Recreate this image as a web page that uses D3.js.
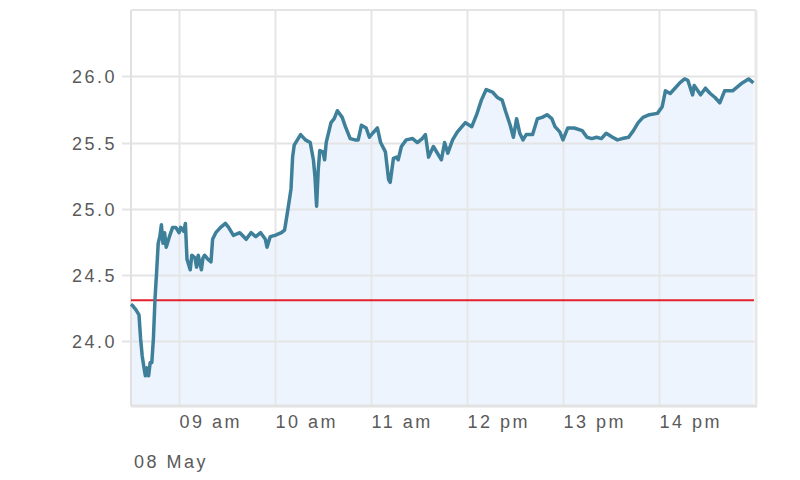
<!DOCTYPE html>
<html>
<head>
<meta charset="utf-8">
<script src="https://cdn.jsdelivr.net/npm/d3@7"></script>
<style>
  html, body { margin: 0; padding: 0; background: #fff; }
  svg text { font-family: "Liberation Sans", Arial, sans-serif; fill: #5a5a5a; }
</style>
</head>
<body>
<svg id="chart" width="800" height="480"></svg>
<script>
// ---- data ----
const times = [
  "08:30","08:31","08:33","08:35","08:36","08:37","08:38","08:39","08:40","08:41","08:42","08:43",
  "08:44","08:45","08:46","08:47","08:48","08:49","08:50","08:51","08:52","08:54","08:56","08:58",
  "09:00","09:01","09:03","09:04","09:05","09:07","09:08","09:10","09:11","09:12","09:14","09:15",
  "09:16","09:18","09:20","09:21","09:23","09:26","09:29","09:31","09:34","09:38","09:42","09:45",
  "09:48","09:51","09:54","09:55","09:57","10:00","10:04","10:06","10:08","10:10","10:11","10:12",
  "10:16","10:19","10:22","10:24","10:25","10:26","10:27","10:28","10:30","10:31","10:32","10:35",
  "10:37","10:39","10:42","10:44","10:47","10:50","10:52","10:54","10:57","10:59","11:01","11:04",
  "11:06","11:09","11:11","11:12","11:14","11:16","11:17","11:19","11:22","11:26","11:29","11:32",
  "11:34","11:36","11:39","11:42","11:44","11:46","11:48","11:51","11:54","11:59","12:03","12:06",
  "12:09","12:12","12:16","12:19","12:22","12:24","12:27","12:29","12:31","12:33","12:35","12:37",
  "12:41","12:44","12:47","12:50","12:53","12:55","12:58","13:00","13:03","13:07","13:12","13:15",
  "13:18","13:21","13:24","13:27","13:31","13:34","13:37","13:41","13:44","13:47","13:50","13:54",
  "13:59","14:02","14:04","14:07","14:10","14:13","14:16","14:18","14:21","14:22","14:26","14:29",
  "14:32","14:35","14:38","14:41","14:46","14:49","14:52","14:56","14:59"
];
const prices = [
  24.28,24.27,24.24,24.20,24.02,23.89,23.81,23.74,23.80,23.74,23.84,23.84,
  24.02,24.32,24.52,24.74,24.79,24.88,24.74,24.82,24.71,24.79,24.86,24.86,
  24.82,24.86,24.83,24.89,24.62,24.54,24.65,24.63,24.56,24.65,24.54,24.63,
  24.65,24.62,24.60,24.77,24.82,24.86,24.89,24.86,24.80,24.82,24.77,24.82,
  24.79,24.82,24.77,24.71,24.79,24.80,24.82,24.84,24.99,25.15,25.39,25.48,
  25.56,25.52,25.50,25.37,25.24,25.02,25.29,25.44,25.43,25.37,25.50,25.65,
  25.68,25.74,25.69,25.62,25.53,25.52,25.52,25.63,25.61,25.54,25.57,25.61,
  25.50,25.43,25.22,25.20,25.38,25.39,25.37,25.47,25.52,25.53,25.50,25.53,
  25.56,25.39,25.47,25.41,25.37,25.50,25.42,25.52,25.58,25.65,25.62,25.71,
  25.82,25.90,25.88,25.84,25.82,25.74,25.63,25.54,25.68,25.57,25.52,25.56,
  25.56,25.68,25.69,25.71,25.68,25.62,25.58,25.52,25.61,25.61,25.59,25.54,
  25.53,25.54,25.53,25.57,25.54,25.52,25.53,25.54,25.59,25.65,25.69,25.71,
  25.72,25.77,25.89,25.87,25.91,25.95,25.98,25.97,25.86,25.93,25.86,25.91,
  25.87,25.84,25.80,25.89,25.89,25.92,25.95,25.98,25.95
];
const previousClose = 24.31;
const yTicks = [24.0, 24.5, 25.0, 25.5, 26.0];
const xTickTimes = ["09:00","10:00","11:00","12:00","13:00","14:00"];
const xTickLabels = ["09 am","10 am","11 am","12 pm","13 pm","14 pm"];
const dateLabel = "08 May";
const domainStart = "08:30", domainEnd = "15:00";
const yMin = 23.52, yMax = 26.5;

// ---- chart ----
const parse = d3.timeParse("%Y-%m-%d %H:%M");
const toDate = t => parse("2014-05-08 " + t);
const data = times.map((t, i) => ({ t: toDate(t), v: prices[i] }));

const svg = d3.select("#chart");
const m = { left: 131, right: 755, top: 10, bottom: 405 };

const x = d3.scaleTime().domain([toDate(domainStart), toDate(domainEnd)]).range([m.left, m.right]);
const y = d3.scaleLinear().domain([yMin, yMax]).range([m.bottom, m.top]);

// area fill
svg.append("path")
  .datum(data)
  .attr("fill", "#eef4fd")
  .attr("d", d3.area().x(d => x(d.t)).y0(m.bottom).y1(d => y(d.v)));

// grid: horizontal
const gy = svg.append("g");
gy.selectAll("line").data(yTicks).join("line")
  .attr("x1", m.left - 9).attr("x2", m.right)
  .attr("y1", d => Math.round(y(d)) + 0.5).attr("y2", d => Math.round(y(d)) + 0.5)
  .attr("stroke", "#e4e4e4").attr("stroke-width", 2);
// grid: vertical
const gx = svg.append("g");
gx.selectAll("line").data(xTickTimes).join("line")
  .attr("x1", d => Math.round(x(toDate(d))) + 0.5).attr("x2", d => Math.round(x(toDate(d))) + 0.5)
  .attr("y1", m.top).attr("y2", m.bottom)
  .attr("stroke", "#e6e6e6").attr("stroke-width", 2);

// frame
svg.append("line").attr("x1", m.left).attr("x2", m.right + 1).attr("y1", m.top).attr("y2", m.top)
  .attr("stroke", "#e4e4e4").attr("stroke-width", 2);
svg.append("line").attr("x1", m.left).attr("x2", m.left).attr("y1", m.top).attr("y2", m.bottom + 1)
  .attr("stroke", "#e0e0e0").attr("stroke-width", 2);
svg.append("line").attr("x1", m.left).attr("x2", m.right + 2).attr("y1", m.bottom + 1).attr("y2", m.bottom + 1)
  .attr("stroke", "#e2e2e2").attr("stroke-width", 3);
svg.append("line").attr("x1", m.right + 1).attr("x2", m.right + 1).attr("y1", m.top).attr("y2", m.bottom + 1)
  .attr("stroke", "#e8e8e8").attr("stroke-width", 3);

// previous close line
svg.append("line")
  .attr("x1", m.left).attr("x2", m.right - 1)
  .attr("y1", y(previousClose)).attr("y2", y(previousClose))
  .attr("stroke", "#e3202b").attr("stroke-width", 2);

// price line
svg.append("path")
  .datum(data)
  .attr("fill", "none")
  .attr("stroke", "#3e7f9a")
  .attr("stroke-width", 3.5)
  .attr("stroke-linejoin", "round")
  .attr("d", d3.line().x(d => x(d.t)).y(d => y(d.v)));

// y axis labels
const yAxis = d3.axisLeft(y).tickValues(yTicks).tickFormat(d3.format(".1f")).tickSize(0).tickPadding(0);
const ya = svg.append("g").attr("transform", `translate(${m.left - 14},0)`).call(yAxis);
ya.select(".domain").remove();
ya.selectAll("text")
  .attr("font-size", 18).attr("letter-spacing", "2.5px")
  .attr("fill", "#5a5a5a").attr("dy", "0.36em")
  .style("font-family", '"Liberation Sans", Arial, sans-serif');

// x axis labels
const xAxis = d3.axisBottom(x).tickValues(xTickTimes.map(toDate))
  .tickFormat((d, i) => xTickLabels[i]).tickSize(0).tickPadding(0);
const xa = svg.append("g").attr("transform", `translate(0,${m.bottom})`).call(xAxis);
xa.select(".domain").remove();
xa.selectAll("text")
  .attr("text-anchor", "start").attr("y", 23).attr("dy", 0)
  .attr("font-size", 18).attr("letter-spacing", "2.5px")
  .attr("fill", "#5a5a5a")
  .style("font-family", '"Liberation Sans", Arial, sans-serif');

svg.append("text")
  .attr("x", 134).attr("y", 468)
  .attr("font-size", 18).attr("letter-spacing", "2.5px")
  .attr("fill", "#5a5a5a")
  .text(dateLabel);
</script>
</body>
</html>
